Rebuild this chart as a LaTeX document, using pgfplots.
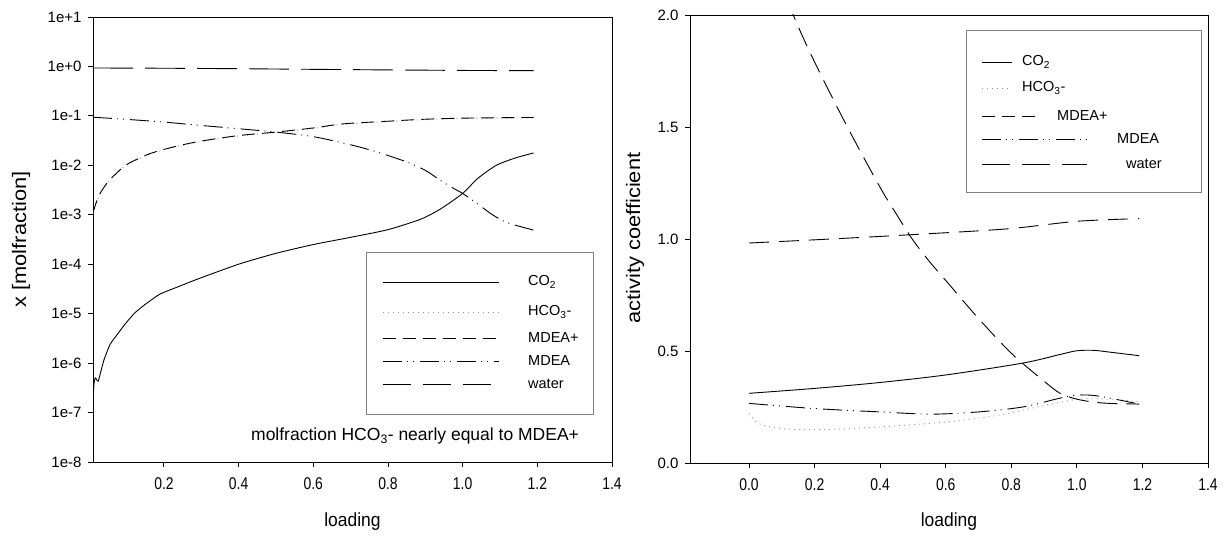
\documentclass[border=0pt]{standalone}
\usepackage{fontspec}
\setmainfont{Liberation Sans}
\newfontfamily\fxtick{Liberation Sans}[FakeStretch=0.82]
\newfontfamily\fxlab{Liberation Sans}[FakeStretch=0.92]
\newfontfamily\fylab{Liberation Sans}[FakeStretch=1.12]
\usepackage{pgfplots}
\pgfplotsset{compat=1.18}

% line styles of the five species
\tikzset{
  co2/.style={black, line width=0.9bp, solid},
  hco/.style={gray!80, line width=0.9bp, dash pattern=on 1bp off 4bp},
  mdeap/.style={black, line width=0.9bp, dash pattern=on 13bp off 7bp},
  mdea/.style={black, line width=0.9bp, dash pattern=on 19bp off 5bp on 1bp off 5bp on 1bp off 6bp},
  water/.style={black, line width=0.9bp, dash pattern=on 28bp off 12bp},
}
\pgfplotsset{
  common/.style={
    scale only axis, anchor=south west,
    axis line style={black, line width=0.9bp},
    tick style={black, line width=0.9bp},
    major tick length=5bp, tick align=outside, tick pos=left,
    xticklabel style={font=\fxtick\fontsize{17bp}{19bp}\selectfont, yshift=-7bp},
    yticklabel style={font=\fontsize{15bp}{17bp}\selectfont, xshift=-3bp},
    clip=true,
  }
}

\begin{document}
\begin{tikzpicture}[x=1bp,y=1bp]
\useasboundingbox (0,0) rectangle (1225,536);

% ---------- mole fractions ----------
\begin{axis}[common,
  at={(93bp,74bp)}, width=519bp, height=445bp,
  xmin=0.01, xmax=1.4, ymode=log, ymin=1e-8, ymax=10,
  xtick={0.2,0.4,0.6,0.8,1.0,1.2,1.4},
  xticklabels={0.2,0.4,0.6,0.8,1.0,1.2,1.4},
  ytick={1e-8,1e-7,1e-6,1e-5,1e-4,1e-3,1e-2,1e-1,1,10},
  yticklabels={1e-8,1e-7,1e-6,1e-5,1e-4,1e-3,1e-2,1e-1,1e+0,1e+1},
  yminorticks=false,
  xlabel={loading},
  ylabel={x [molfraction]},
  every axis x label/.style={at={(axis description cs:0.5,-0.135)}, anchor=center,
    font=\fxlab\fontsize{19bp}{21bp}\selectfont},
  every axis y label/.style={at={(axis description cs:-0.1387,0.5)}, rotate=90, anchor=center,
    font=\fylab\fontsize{19.5bp}{21bp}\selectfont},
]
% HCO3-
\addplot[hco, smooth] coordinates {
 (0.01,0.00108) (0.02,0.00186) (0.03,0.00274) (0.05,0.0045) (0.07,0.0065)
 (0.097,0.0098) (0.13,0.0132) (0.16,0.0167) (0.2,0.0206) (0.25,0.0255)
 (0.3,0.0304) (0.4,0.0392) (0.5,0.046) (0.6,0.0559) (0.68,0.0676)
 (0.8,0.0764) (0.89,0.0833) (1.0,0.0882) (1.19,0.0911)};
% MDEA+
\addplot[mdeap, smooth] coordinates {
 (0.01,0.0011) (0.02,0.0019) (0.03,0.0028) (0.05,0.0046) (0.07,0.0066)
 (0.097,0.01) (0.13,0.0135) (0.16,0.017) (0.2,0.021) (0.25,0.026)
 (0.3,0.031) (0.4,0.04) (0.5,0.047) (0.6,0.057) (0.68,0.069)
 (0.8,0.078) (0.89,0.085) (1.0,0.09) (1.19,0.093)};
% MDEA
\addplot[mdea, smooth] coordinates {
 (0.01,0.094) (0.1,0.085) (0.2,0.075) (0.28,0.066) (0.4,0.055) (0.5,0.047)
 (0.6,0.038) (0.7,0.026) (0.77,0.0187) (0.85,0.0117) (0.9,0.0079)
 (0.94,0.005) (0.97,0.0036) (1.0,0.0027) (1.04,0.00166) (1.08,0.001)
 (1.12,0.00069) (1.19,0.00049)};
% water
\addplot[black, line width=0.9bp, dash pattern=on 40bp off 12bp] coordinates {
 (0.01,0.93) (0.2,0.92) (0.4,0.90) (0.55,0.88) (0.8,0.85) (1.0,0.83) (1.19,0.82)};
% CO2
\addplot[co2, smooth, tension=0.4] coordinates {
 (0.01,1.8e-7) (0.013,4e-7) (0.016,5e-7) (0.02,4.6e-7) (0.024,4.3e-7)
 (0.03,6.3e-7) (0.04,1.2e-6) (0.056,2.4e-6) (0.075,3.8e-6) (0.097,6.3e-6)
 (0.12,1.0e-5) (0.14,1.35e-5) (0.16,1.75e-5) (0.19,2.5e-5) (0.24,3.55e-5)
 (0.29,5.0e-5) (0.4,1.0e-4)
 (0.5,1.66e-4) (0.6,2.5e-4) (0.7,3.5e-4) (0.8,5.0e-4) (0.887,8.1e-4)
 (0.94,1.3e-3) (1.0,2.7e-3) (1.04,5.4e-3) (1.09,1.0e-2) (1.14,1.4e-2)
 (1.19,1.78e-2)};
\node[anchor=west, inner sep=0pt, font=\fontsize{17.5bp}{20bp}\selectfont]
  at (axis description cs:0.3044,0.0584) {molfraction HCO\textsubscript{3}- nearly equal to MDEA+};
\end{axis}

% ---------- activity coefficients ----------
\begin{axis}[common,
  at={(690bp,73bp)}, width=518bp, height=448bp,
  xmin=-0.18, xmax=1.4, ymin=0, ymax=2,
  xtick={0,0.2,0.4,0.6,0.8,1.0,1.2,1.4},
  xticklabels={0.0,0.2,0.4,0.6,0.8,1.0,1.2,1.4},
  ytick={0,0.5,1,1.5,2},
  yticklabels={0.0,0.5,1.0,1.5,2.0},
  xlabel={loading},
  ylabel={activity coefficient},
  every axis x label/.style={at={(axis description cs:0.5,-0.1317)}, anchor=center,
      font=\fxlab\fontsize{19bp}{21bp}\selectfont},
  every axis y label/.style={at={(axis description cs:-0.106,0.502)}, rotate=90, anchor=center,
    font=\fylab\fontsize{19.5bp}{21bp}\selectfont},
]
% CO2
\addplot[co2, smooth] coordinates {
 (0,0.311) (0.2,0.333) (0.397,0.359) (0.6,0.393) (0.835,0.446) (0.95,0.485)
 (1.0,0.501) (1.05,0.503) (1.1,0.495) (1.19,0.479)};
% HCO3-
\addplot[hco, smooth] coordinates {
 (0,0.221) (0.03,0.176) (0.105,0.153) (0.226,0.149) (0.4,0.161) (0.6,0.183)
 (0.76,0.213) (0.88,0.25) (1.0,0.284) (1.1,0.285) (1.19,0.273)};
% MDEA+
\addplot[black, line width=0.9bp, dash pattern=on 20bp off 9bp, smooth] coordinates {
 (0,2.55) (0.07,2.25) (0.135,2.0) (0.2,1.79) (0.3,1.5) (0.4,1.23) (0.45,1.11)
 (0.5,0.995) (0.55,0.9) (0.6,0.815) (0.7,0.645) (0.8,0.49) (0.9,0.365)
 (0.95,0.31) (1.0,0.285) (1.05,0.272) (1.1,0.266) (1.19,0.263)};
% MDEA
\addplot[mdea, smooth] coordinates {
 (0,0.266) (0.2,0.243) (0.4,0.228) (0.555,0.218) (0.7,0.228) (0.835,0.25)
 (0.944,0.288) (1.0,0.303) (1.065,0.299) (1.19,0.263)};
% water
\addplot[black, line width=0.9bp, dash pattern=on 20bp off 10bp, smooth] coordinates {
 (0,0.982) (0.25,1.0) (0.48,1.018) (0.786,1.045) (1.0,1.079) (1.19,1.091)};
\end{axis}

% ---------- legends ----------
\begin{scope}[font=\fontsize{14.5bp}{16bp}\selectfont]
  % left panel
  \draw[gray, line width=0.9bp] (366.5,122) rectangle (593,284);
  \draw[co2]   (382.5,254) -- (499,254);
  \draw[hco]   (382.5,224) -- (499,224);
  \draw[mdeap] (382.5,198) -- (499,198);
  \draw[mdea]  (382.5,175) -- (499,175);
  \draw[water] (382.5,152) -- (499,152);
  \node[anchor=west, inner sep=0pt] at (528,254) {CO\textsubscript{2}};
  \node[anchor=west, inner sep=0pt] at (528,224) {HCO\textsubscript{3}-};
  \node[anchor=west, inner sep=0pt] at (528,198) {MDEA+};
  \node[anchor=west, inner sep=0pt] at (528,175) {MDEA};
  \node[anchor=west, inner sep=0pt] at (528,152) {water};
  % right panel
  \draw[gray, line width=0.9bp] (966,344) rectangle (1201,506);
  \draw[co2]   (982,474) -- (1012,474);
  \draw[hco]   (982,448) -- (1012,448);
  \draw[mdeap] (982,420) -- (1038,420);
  \draw[mdea]  (982,397) -- (1087,397);
  \draw[water] (982,372) -- (1087,372);
  \node[anchor=west, inner sep=0pt] at (1022,474) {CO\textsubscript{2}};
  \node[anchor=west, inner sep=0pt] at (1022,448) {HCO\textsubscript{3}-};
  \node[anchor=west, inner sep=0pt] at (1057,420) {MDEA+};
  \node[anchor=west, inner sep=0pt] at (1117,397) {MDEA};
  \node[anchor=west, inner sep=0pt] at (1126,372) {water};
\end{scope}
\end{tikzpicture}
\end{document}
